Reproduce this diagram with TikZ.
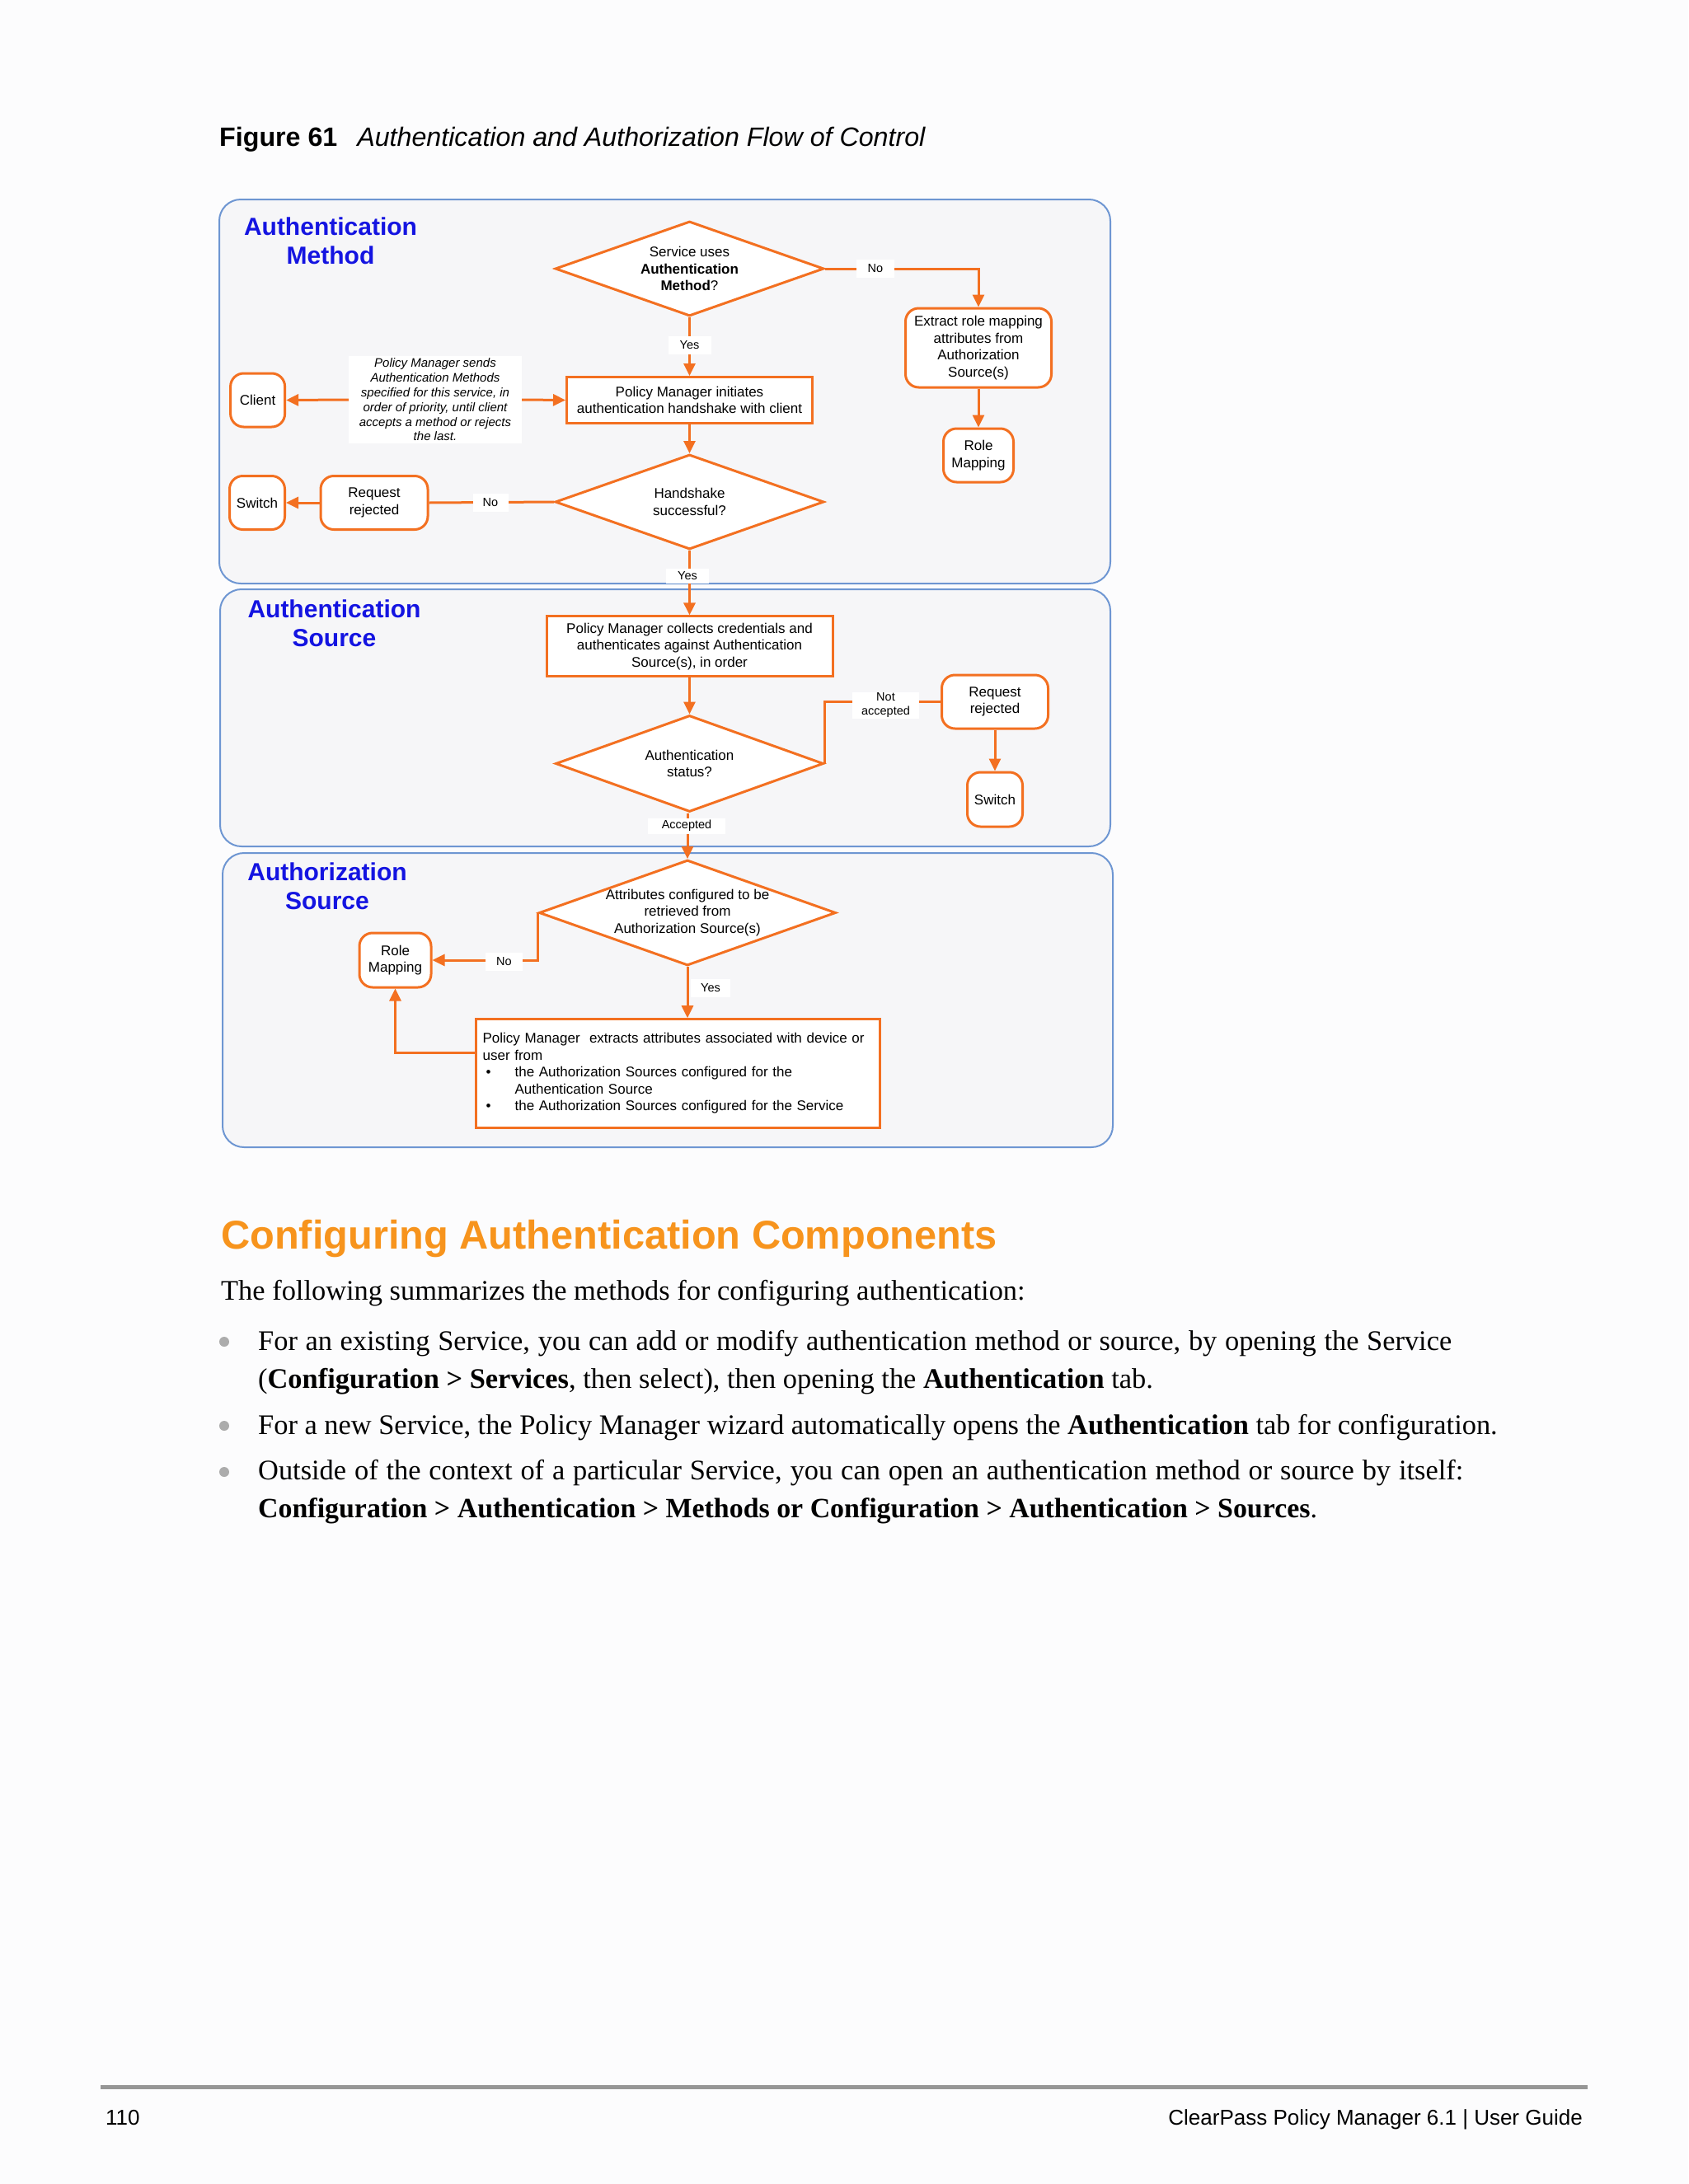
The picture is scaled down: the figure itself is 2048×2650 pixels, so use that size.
\documentclass[tikz,border=0pt]{standalone}
\usepackage{fontspec}
\setmainfont{Liberation Serif}
\setsansfont{Liberation Sans}
\usetikzlibrary{arrows.meta,shapes.geometric}
\definecolor{org}{RGB}{243,112,33}
\definecolor{hdorange}{RGB}{247,148,29}
\definecolor{secblue}{RGB}{110,150,210}
\definecolor{secfill}{RGB}{246,246,248}
\definecolor{titleblue}{RGB}{20,20,225}
\definecolor{pagebg}{RGB}{252,252,253}
\definecolor{rulegray}{RGB}{150,150,150}
\begin{document}
\begin{tikzpicture}[x=1pt,y=-1pt,
  section/.style={draw=secblue,line width=2pt,fill=secfill,rounded corners=26pt},
  flowbox/.style={draw=org,line width=3pt,fill=white,inner sep=0pt,align=center,font=\sffamily\fontsize{17}{20.5}\selectfont},
  roundbox/.style={flowbox,rounded corners=16pt},
  decision/.style={diamond,draw=org,line width=3pt,fill=white,inner sep=0pt},
  dtext/.style={inner sep=0pt,align=center,font=\sffamily\fontsize{17}{20.5}\selectfont},
  conn/.style={draw=org,line width=3pt},
  arr/.style={conn,-{Triangle[length=15pt,width=14pt]}},
  lbl/.style={fill=white,inner sep=0pt,align=center,font=\sffamily\fontsize{14.5}{17}\selectfont},
  sectitle/.style={inner sep=0pt,align=center,anchor=north,text=titleblue,font=\sffamily\bfseries\fontsize{30}{35.5}\selectfont},
  body/.style={inner sep=0pt,anchor=base west,font=\rmfamily\fontsize{34.4}{40}\selectfont},
  bdot/.style={circle,fill=gray!65,inner sep=0pt,minimum size=12pt}
]
\fill[pagebg] (0,0) rectangle (2048,2650);
\useasboundingbox (0,0) rectangle (2048,2650);

% figure caption
\node[inner sep=0pt,anchor=base west,font=\sffamily\fontsize{32.2}{38}\selectfont] (cap) at (266,177)
  {\textbf{Figure 61}\hspace*{24pt}\textit{Authentication and Authorization Flow of Control}};

% section boxes
\draw[section] (266,242) rectangle (1347,708);
\draw[section] (267,715) rectangle (1347,1027);
\draw[section] (270,1035) rectangle (1350,1392);

\node[sectitle] (t1) at (401,263.5) {Authentication\\Method};
\node[sectitle] (t2) at (405.5,727.5) {Authentication\\Source};
\node[sectitle] (t3) at (397,1046.5) {Authorization\\Source};

% ---- Authentication Method
\node[decision,minimum width=326pt,minimum height=115pt] (d1) at (836.5,326) {};
\node[dtext] (d1t) at (d1.center) {Service uses\\\textbf{Authentication}\\\textbf{Method}?};
\node[flowbox,minimum width=298pt,minimum height=56pt] (pmi) at (836.5,485.5)
  {Policy Manager initiates\\authentication handshake with client};
\node[inner sep=0pt,fill=white,minimum width=210pt,minimum height=106pt,align=center,
  font=\sffamily\itshape\fontsize{15}{17.8}\selectfont] (note) at (528,485)
  {Policy Manager sends\\Authentication Methods\\specified for this service, in\\order of priority, until client\\accepts a method or rejects\\the last.};
\node[roundbox,minimum width=66pt,minimum height=65pt] (client) at (312.6,485.5) {Client};
\node[decision,minimum width=326pt,minimum height=115pt] (d2) at (836.5,609) {};
\node[dtext] (d2t) at (d2.center) {Handshake\\successful?};
\node[roundbox,minimum width=130pt,minimum height=65pt] (rr1) at (454,610) {Request\\rejected};
\node[roundbox,minimum width=67pt,minimum height=65pt] (sw1) at (312,610) {Switch};
\node[roundbox,minimum width=177pt,minimum height=96pt] (ext) at (1187,422)
  {Extract role mapping\\attributes from\\Authorization\\Source(s)};
\node[roundbox,minimum width=85pt,minimum height=65pt] (rm1) at (1187,552.5) {Role\\Mapping};

% ---- Authentication Source
\node[flowbox,minimum width=347pt,minimum height=73pt] (pmc) at (836.5,784.4)
  {Policy Manager collects credentials and\\authenticates against Authentication\\Source(s), in order};
\node[decision,minimum width=325pt,minimum height=117pt] (d3) at (836.5,926.5) {};
\node[dtext] (d3t) at (d3.center) {Authentication\\status?};
\node[roundbox,minimum width=129pt,minimum height=65pt] (rr2) at (1207,851.5) {Request\\rejected};
\node[roundbox,minimum width=67pt,minimum height=66pt] (sw2) at (1207,970) {Switch};

% ---- Authorization Source
\node[decision,minimum width=360pt,minimum height=128pt] (d4) at (834,1107.5) {};
\node[dtext] (d4t) at (d4.center) {Attributes configured to be\\retrieved from\\Authorization Source(s)};
\node[roundbox,minimum width=87pt,minimum height=66pt] (rm2) at (479.5,1165) {Role\\Mapping};
\node[draw=org,line width=3pt,fill=white,inner xsep=8pt,inner ysep=0pt,text width=474pt,
  minimum height=131.6pt,align=left,font=\sffamily\fontsize{17}{20.5}\selectfont] (pmx) at (822.6,1302.5)
  {Policy Manager\ \ extracts attributes associated with device or\\
   user from\\
   \makebox[39pt][l]{\hspace*{4pt}•}the Authorization Sources configured for the\\
   \hspace*{39pt}Authentication Source\\
   \makebox[39pt][l]{\hspace*{4pt}•}the Authorization Sources configured for the Service};

% ---- connectors
\draw[arr] (d1.east) -| (ext.north);
\draw[arr] (d1.south) -- (pmi.north);
\draw[arr] (note.west) -- (client.east);
\draw[arr] (note.east) -- (pmi.west);
\draw[arr] (pmi.south) -- (d2.north);
\draw[conn] (d2.west) -- (rr1.east);
\draw[arr] (rr1.west) -- (sw1.east);
\draw[arr] (ext.south) -- (rm1.north);
\draw[arr] (d2.south) -- (pmc.north);
\draw[arr] (pmc.south) -- (d3.north);
\draw[conn] (d3.east) |- (rr2.west);
\draw[arr] (rr2.south) -- (sw2.north);
\draw[arr] (d3.south -| d4.north) -- (d4.north);
\draw[arr] (d4.west) |- (rm2.east);
\draw[arr] (d4.south) -- (d4.south |- pmx.north);
\draw[arr] ([yshift=25.5pt]pmx.west) -| (rm2.south);

% ---- connector labels
\node[lbl,minimum width=46pt,minimum height=22pt] (lno1) at (1062,326) {No};
\node[lbl,minimum width=52pt,minimum height=22pt] (lyes1) at (836.5,419) {Yes};
\node[lbl,minimum width=43pt,minimum height=22pt] (lno2) at (595,610) {No};
\node[lbl,minimum width=52pt,minimum height=18pt] (lyes2) at (834,699) {Yes};
\node[lbl,minimum width=81pt,minimum height=32pt] (lnot) at (1074.5,855.8) {Not\\accepted};
\node[lbl,minimum width=94pt,minimum height=19pt] (lacc) at (833,1002) {Accepted};
\node[lbl,minimum width=45pt,minimum height=22pt] (lno3) at (611.5,1166.5) {No};
\node[lbl,minimum width=48pt,minimum height=22pt] (lyes3) at (862,1199) {Yes};

% ---- text below the figure
\node[inner sep=0pt,anchor=base west,text=hdorange,font=\sffamily\bfseries\fontsize{48.7}{58}\selectfont] (head) at (268,1515)
  {Configuring Authentication Components};
\node[body] (p1) at (268,1577) {The following summarizes the methods for configuring authentication:};
\node[bdot] (b1) at (272,1628) {};
\node[body] (l1a) at (313,1638) {\makebox[1448pt][s]{For an existing Service, you can add or modify authentication method or source, by opening the Service}};
\node[body] (l1b) at (313,1684) {(\textbf{Configuration > Services}, then select), then opening the \textbf{Authentication} tab.};
\node[bdot] (b2) at (272,1730) {};
\node[body] (l2a) at (313,1740) {For a new Service, the Policy Manager wizard automatically opens the \textbf{Authentication} tab for configuration.};
\node[bdot] (b3) at (272,1786) {};
\node[body] (l3a) at (313,1795) {\makebox[1462pt][s]{Outside of the context of a particular Service, you can open an authentication method or source by itself:}};
\node[body,font=\rmfamily\fontsize{33.9}{40}\selectfont] (l3b) at (313,1841) {\textbf{Configuration > Authentication > Methods or Configuration > Authentication > Sources}.};

% ---- footer
\draw[rulegray,line width=5pt] (122,2532.5) -- (1926,2532.5);
\node[inner sep=0pt,anchor=base west,font=\sffamily\fontsize{26}{30}\selectfont] (pg) at (128,2578) {110};
\node[inner sep=0pt,anchor=base east,font=\sffamily\fontsize{26}{30}\selectfont] (foot) at (1920,2578) {ClearPass Policy Manager 6.1 | User Guide};
\end{tikzpicture}
\end{document}
